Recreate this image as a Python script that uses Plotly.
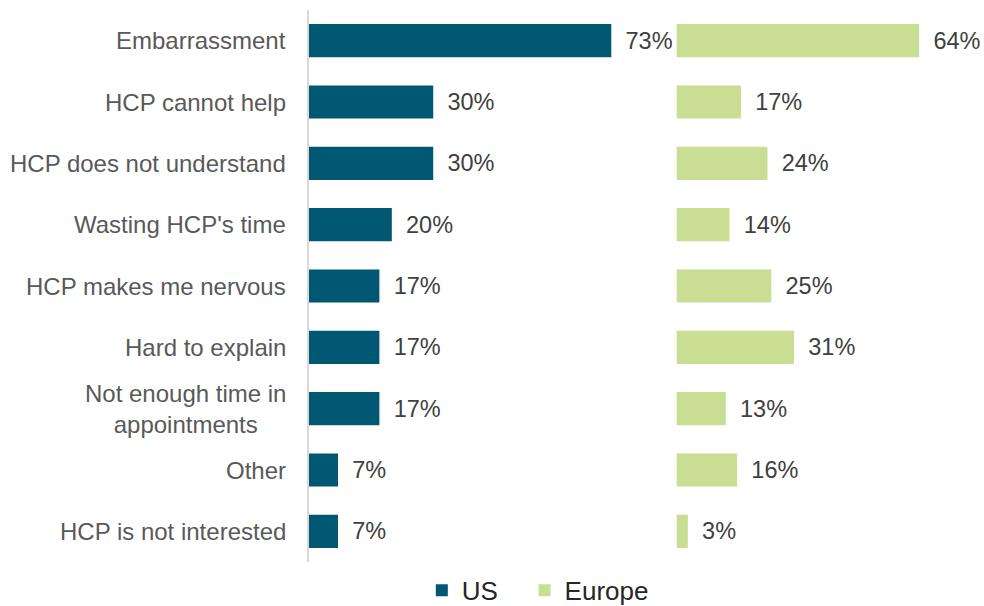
import plotly.graph_objects as go

categories = ["Embarrassment", "HCP cannot help", "HCP does not understand",
              "Wasting HCP's time", "HCP makes me nervous", "Hard to explain",
              "Not enough time in<br>appointments", "Other", "HCP is not interested"]
us = [73, 30, 30, 20, 17, 17, 17, 7, 7]
europe = [64, 17, 24, 14, 25, 31, 13, 16, 3]

pad = "\u00a0\u2009"
fnt = "Liberation Sans, Arial, sans-serif"

fig = go.Figure()
fig.add_trace(go.Bar(
    y=categories, x=us, orientation="h", name="US\u00a0\u00a0\u00a0", xaxis="x", yaxis="y",
    marker=dict(color="#005872", line=dict(width=0)),
    text=[pad + f"{v}%" for v in us], textposition="outside", cliponaxis=False,
    textfont=dict(size=23.5, color="#404040", family=fnt),
))
fig.add_trace(go.Bar(
    y=categories, x=europe, orientation="h", name="Europe", xaxis="x2", yaxis="y",
    marker=dict(color="#c9de93", line=dict(width=0)),
    text=[pad + f"{v}%" for v in europe], textposition="outside", cliponaxis=False,
    textfont=dict(size=23.5, color="#404040", family=fnt),
))

# category labels as annotations so the two-line one is centred
for c in categories:
    fig.add_annotation(x=-0.031, xref="paper", xanchor="right", y=c, yref="y",
                       text=c, showarrow=False, align="center",
                       font=dict(size=24, color="#595959", family=fnt))

fig.update_layout(
    width=984, height=606,
    margin=dict(l=309, r=0, t=10, b=44),
    plot_bgcolor="white", paper_bgcolor="white",
    font=dict(family=fnt),
    bargap=0.46,
    showlegend=True,
    legend=dict(orientation="h", x=0.339, xanchor="center", yref="container",
                y=0.026, yanchor="middle",
                font=dict(size=26, color="#262626", family=fnt)),
    xaxis=dict(domain=[0, 0.5], range=[0, 81.5], visible=False),
    xaxis2=dict(domain=[0.5444, 1], range=[0, 81.1], visible=False, anchor="y"),
    yaxis=dict(autorange="reversed", showticklabels=False, showline=True,
               linecolor="#d9d9d9", linewidth=2, showgrid=False, ticks=""),
)

fig.write_html("out.html", config={"displayModeBar": False},
               post_script="document.body.style.margin='0';document.body.style.overflow='hidden';")
